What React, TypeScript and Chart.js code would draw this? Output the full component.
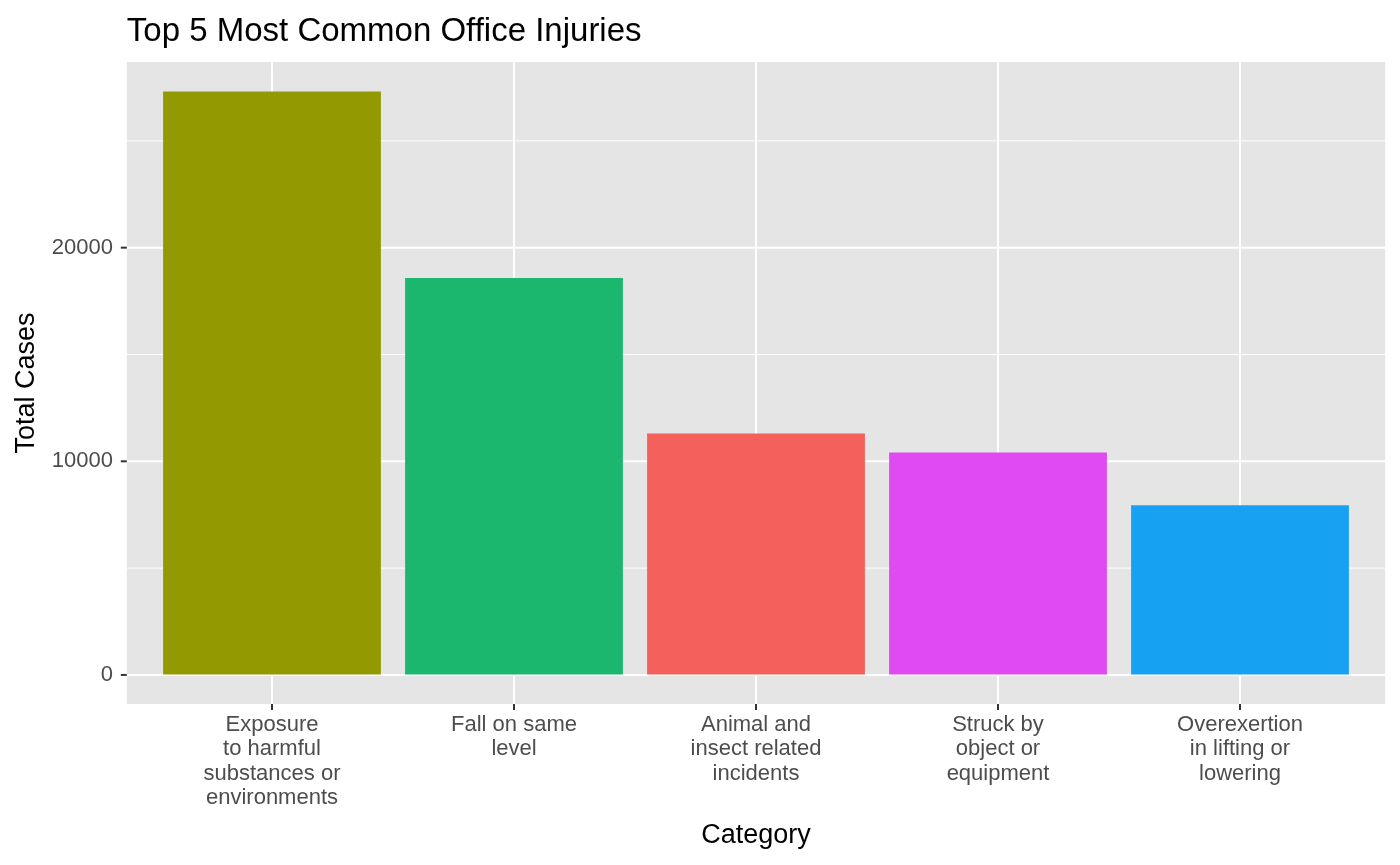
import React, { useEffect, useRef } from "react";
import { Chart, registerables } from "chart.js";

Chart.register(...registerables);

const categories: string[][] = [
  ["Exposure", "to harmful", "substances or", "environments"],
  ["Fall on same", "level"],
  ["Animal and", "insect related", "incidents"],
  ["Struck by", "object or", "equipment"],
  ["Overexertion", "in lifting or", "lowering"],
];
const totalCases = [27310, 18580, 11300, 10410, 7940];
const barColors = ["#939900", "#1BB76E", "#F4605B", "#DF4AF1", "#16A1F2"];
const yTicks = [0, 5000, 10000, 15000, 20000, 25000];

const FONT = "'Liberation Sans', Arial, sans-serif";

// ggplot-like panel: extends 0.1 category beyond Chart.js' half-category offset
const panelPlugin = {
  id: "panel",
  beforeDraw(chart: Chart) {
    const { ctx, chartArea: a } = chart;
    const ys = chart.scales.y;
    const step = (a.right - a.left) / categories.length;
    const left = a.left - step * 0.1;
    const right = a.right + step * 0.1;
    ctx.save();
    ctx.fillStyle = "#FFFFFF";
    ctx.fillRect(0, 0, chart.width, chart.height);
    ctx.fillStyle = "#E5E5E5";
    ctx.fillRect(left, a.top, right - left, a.bottom - a.top);
    yTicks.forEach((v) => {
      const y = ys.getPixelForValue(v);
      const major = v % 10000 === 0;
      ctx.strokeStyle = "#FFFFFF";
      ctx.lineWidth = major ? 2 : 1;
      ctx.beginPath();
      ctx.moveTo(left, y);
      ctx.lineTo(right, y);
      ctx.stroke();
      if (major) {
        ctx.strokeStyle = "#333333";
        ctx.lineWidth = 2;
        ctx.beginPath();
        ctx.moveTo(left - 6, y);
        ctx.lineTo(left, y);
        ctx.stroke();
      }
    });
    ctx.fillStyle = "#000000";
    ctx.font = `33px ${FONT}`;
    ctx.textBaseline = "alphabetic";
    ctx.fillText("Top 5 Most Common Office Injuries", left, 41);
    ctx.restore();
  },
};

export default function App() {
  const ref = useRef<HTMLCanvasElement | null>(null);

  useEffect(() => {
    document.body.style.margin = "0";
    if (!ref.current) return;
    const chart = new Chart(ref.current, {
      type: "bar",
      data: {
        labels: categories as any,
        datasets: [
          {
            data: totalCases,
            backgroundColor: barColors,
            categoryPercentage: 0.9,
            barPercentage: 1,
          },
        ],
      },
      options: {
        animation: false,
        responsive: false,
        layout: { padding: { top: 62, right: 39, left: 0, bottom: 0 } },
        plugins: { legend: { display: false }, tooltip: { enabled: false } },
        scales: {
          x: {
            grid: { offset: false, color: "#FFFFFF", lineWidth: 2, tickColor: "#333333", tickLength: 6 },
            border: { display: false },
            ticks: { color: "#4D4D4D", font: { family: FONT, size: 22, lineHeight: 1.1 }, padding: 3, maxRotation: 0, autoSkip: false },
            title: { display: true, text: "Category", color: "#000", font: { family: FONT, size: 27 }, padding: { top: 4, bottom: 13 } },
            afterFit: (s: any) => { s.height = 161; },
          },
          y: {
            min: -1360,
            max: 28690,
            afterBuildTicks: (s: any) => {
              s.ticks = yTicks.map((v) => ({ value: v }));
            },
            grid: { drawOnChartArea: false, tickColor: "rgba(0,0,0,0)", tickLength: 6 },
            border: { display: false },
            ticks: {
              color: "#4D4D4D",
              font: { family: FONT, size: 22 },
              padding: 32,
              callback: (v: any) => (Number(v) % 10000 === 0 ? String(v) : ""),
            },
            title: { display: true, text: "Total Cases", color: "#000", font: { family: FONT, size: 27 }, padding: { top: 10, bottom: 0 } },
            afterFit: (s: any) => { s.width = 151; },
          },
        },
      },
      plugins: [panelPlugin],
    });
    return () => chart.destroy();
  }, []);

  return <canvas ref={ref} width={1400} height={865} style={{ display: "block" }} />;
}
